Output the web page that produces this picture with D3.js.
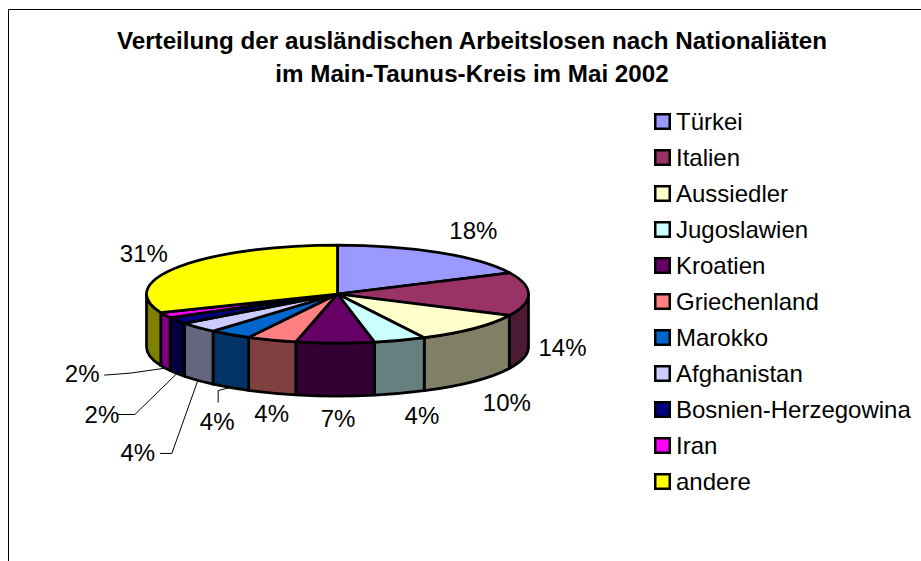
<!DOCTYPE html>
<html>
<head>
<meta charset="utf-8">
<script src="https://cdn.jsdelivr.net/npm/d3@7"></script>
<style>
  html, body { margin: 0; background: #fff; }
  svg { display: block; }
  text { font-family: "Liberation Sans", Arial, sans-serif; fill: #000; }
</style>
</head>
<body>
<script>
// data, shares, labels show them rounded
let categories = ["Türkei", "Italien", "Aussiedler", "Jugoslawien", "Kroatien", "Griechenland",
  "Marokko", "Afghanistan", "Bosnien-Herzegowina", "Iran", "andere"];
let percents = [17.9, 14.3, 10.3, 4.4, 6.6, 4.2, 3.6, 3.5, 2.2, 1.8, 31.2];
let colors = ["#9999ff", "#993366", "#ffffcc", "#ccffff", "#660066", "#ff8080",
  "#0066cc", "#ccccff", "#000080", "#ff00ff", "#ffff00"];
let titleLines = ["Verteilung der ausländischen Arbeitslosen nach Nationaliäten",
  "im Main-Taunus-Kreis im Mai 2002"];

let width = 921;
let height = 561;

// pie geometry
let cx = 337.5, cy = 294, rx = 191, ry = 49, depth = 53;

// label offset from the lower rim point of each slice, leader = bend points relative to the same point
let labelOffset = [
  [34, -22], [34, 0], [33, 21], [22, 22], [3, 23], [0, 21], [-13, 34], [-60, 72], [-75, 41], [-83, 5], [-35, -13]
];
let leaders = {
  6: [[-12, 3], [-12, 15]],
  7: [[-26, 73], [-38, 73]],
  8: [[-42, 41], [-59, 41]],
  9: [[-35, 5], [-61, 7]]
};

let color = d3.scaleOrdinal().domain(categories).range(colors);

let pie = d3.pie().sort(null).value(d => d.value);
let slices = pie(categories.map((c, i) => ({ name: c, value: percents[i] })));

let arc = d3.arc().innerRadius(0).outerRadius(rx);

// angle is clockwise from the top, same as d3.pie
let px = a => cx + rx * Math.sin(a);
let py = a => cy - ry * Math.cos(a);

function rim(d) {
  let a0 = Math.max(d.startAngle, Math.PI / 2);
  let a1 = Math.min(d.endAngle, Math.PI * 1.5);
  if (a1 <= a0) return null;
  return `M${px(a0)},${py(a0)}`
    + `A${rx},${ry} 0 0 1 ${px(a1)},${py(a1)}`
    + `L${px(a1)},${py(a1) + depth}`
    + `A${rx},${ry} 0 0 0 ${px(a0)},${py(a0) + depth}Z`;
}

function dark(c) {
  let k = d3.rgb(c);
  return d3.rgb(k.r / 2, k.g / 2, k.b / 2).formatHex();
}

let svg = d3.select("body").append("svg")
  .attr("width", width)
  .attr("height", height);

// frame, open at the bottom and right like the clipped original
svg.append("path")
  .attr("d", `M8.5,${height}V9.5H${width}`)
  .attr("fill", "none")
  .attr("stroke", "#000")
  .attr("stroke-width", 1);

svg.append("g")
  .selectAll("text")
  .data(titleLines)
  .join("text")
    .attr("x", 472)
    .attr("y", (d, i) => 49 + i * 33)
    .attr("text-anchor", "middle")
    .attr("font-size", 24.2)
    .attr("font-weight", "bold")
    .text(d => d);

// side of the pie
svg.append("g")
  .selectAll("path")
  .data(slices.filter(d => rim(d)))
  .join("path")
    .attr("d", rim)
    .attr("fill", d => dark(color(d.data.name)))
    .attr("stroke", "#000")
    .attr("stroke-width", 2.75)
    .attr("stroke-linejoin", "round");

// top of the pie
svg.append("g")
  .attr("transform", `translate(${cx},${cy}) scale(1,${ry / rx})`)
  .selectAll("path")
  .data(slices)
  .join("path")
    .attr("d", arc)
    .attr("fill", d => color(d.data.name))
    .attr("stroke", "#000")
    .attr("stroke-width", 2.75)
    .attr("stroke-linejoin", "round")
    .attr("vector-effect", "non-scaling-stroke");

let mid = d => (d.startAngle + d.endAngle) / 2;
let anchor = d => {
  let a = mid(d);
  let front = Math.cos(a) < 0 ? depth : 0;
  return [px(a), py(a) + front];
};

// leader lines
svg.append("g")
  .selectAll("path")
  .data(slices.filter(d => leaders[d.index]))
  .join("path")
    .attr("d", d => {
      let p = anchor(d);
      let pts = [p].concat(leaders[d.index].map(o => [p[0] + o[0], p[1] + o[1]]));
      return d3.line()(pts);
    })
    .attr("fill", "none")
    .attr("stroke", "#000")
    .attr("stroke-width", 1);

// percent labels
svg.append("g")
  .selectAll("text")
  .data(slices)
  .join("text")
    .attr("x", d => anchor(d)[0] + labelOffset[d.index][0])
    .attr("y", d => anchor(d)[1] + labelOffset[d.index][1])
    .attr("text-anchor", "middle")
    .attr("dominant-baseline", "central")
    .attr("font-size", 24)
    .text(d => Math.round(d.data.value) + "%");

// legend
let legendY = d3.scalePoint()
  .domain(categories)
  .range([121.5, 481.5]);

let legend = svg.append("g")
  .selectAll("g")
  .data(categories)
  .join("g")
    .attr("transform", d => `translate(654,${legendY(d)})`);

legend.append("rect")
  .attr("x", 1.25)
  .attr("y", -7.25)
  .attr("width", 14.5)
  .attr("height", 14.5)
  .attr("fill", d => color(d))
  .attr("stroke", "#000")
  .attr("stroke-width", 2.5);

legend.append("text")
  .attr("x", 22)
  .attr("y", 8)
  .attr("font-size", 24)
  .text(d => d);
</script>
</body>
</html>
